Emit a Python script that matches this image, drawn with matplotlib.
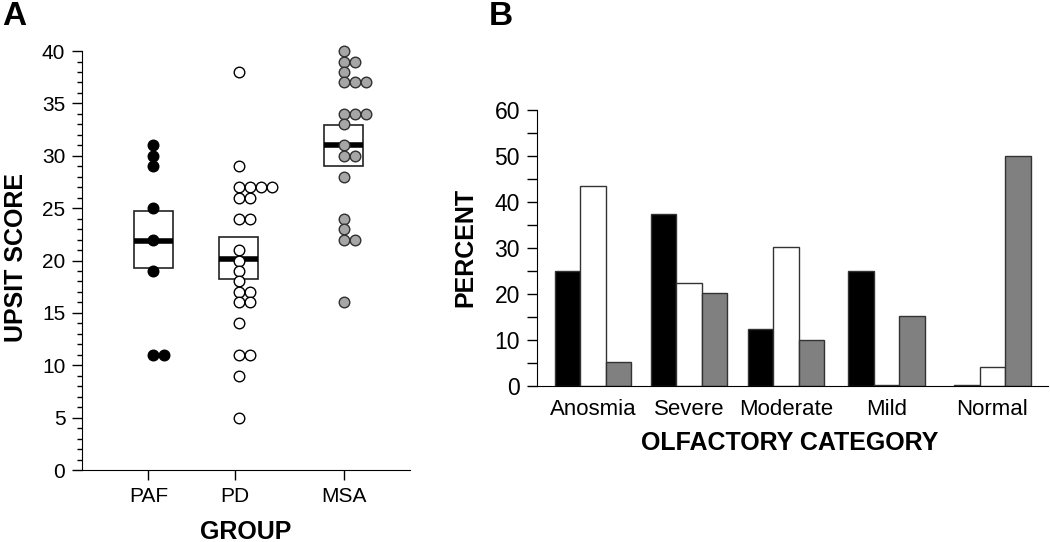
import numpy as np
import matplotlib.pyplot as plt
from matplotlib.patches import Rectangle
from matplotlib.ticker import MultipleLocator

plt.rcParams['font.family'] = ['Liberation Sans', 'DejaVu Sans']

# Panel A: UPSIT scores per group
groups = ['PAF', 'PD', 'MSA']
paf = [31, 30, 29, 25, 22, 19, 11, 11]
pd_ = [38, 29, 27, 27, 27, 27, 26, 26, 24, 24, 21, 20, 19, 18, 17, 17, 16, 16, 14, 11, 11, 9, 5]
msa = [40, 39, 39, 38, 37, 37, 37, 34, 34, 34, 33, 31, 30, 30, 28, 24, 23, 22, 22, 16]
box_low = [19.3, 18.2, 29.0]
box_high = [24.7, 22.2, 32.9]
box_median = [21.9, 20.1, 31.0]

# Panel B: percent per olfactory category
categories = ['Anosmia', 'Severe', 'Moderate', 'Mild', 'Normal']
pct_paf = [25, 37.5, 12.5, 25, 0.3]
pct_pd = [43.5, 22.5, 30.2, 0.3, 4.1]
pct_msa = [5.3, 20.3, 10.1, 15.2, 50.1]

fig = plt.figure(figsize=(10.5, 5.42), dpi=100)

# ---- panel A
axA = fig.add_axes([0.0781, 0.1328, 0.3124, 0.773])
centers = [0.87, 1.91, 3.19]
tick_pos = [0.81, 1.86, 3.19]
step = 0.134
styles = [dict(fc='black', ec='black'),
          dict(fc='white', ec='black'),
          dict(fc='#a6a6a6', ec='#303030')]
for i, vals in enumerate([paf, pd_, msa]):
    c = centers[i]
    axA.add_patch(Rectangle((c - 0.24, box_low[i]), 0.48, box_high[i] - box_low[i],
                            fc='white', ec='#222222', lw=1.2, zorder=2))
    axA.plot([c - 0.24, c + 0.24], [box_median[i]] * 2, color='black', lw=4,
             solid_capstyle='butt', zorder=3)
    # same values sit side by side
    seen = {}
    xs = []
    for v in vals:
        k = seen.get(v, 0)
        seen[v] = k + 1
        xs.append(c + k * step)
    axA.scatter(xs, vals, s=58, lw=1.0, zorder=4, clip_on=False,
                facecolor=styles[i]['fc'], edgecolor=styles[i]['ec'])

axA.set_xlim(0, 4)
axA.set_ylim(0, 40)
axA.spines['top'].set_visible(False)
axA.spines['right'].set_visible(False)
axA.yaxis.set_major_locator(MultipleLocator(5))
axA.yaxis.set_minor_locator(MultipleLocator(1))
axA.set_xticks(tick_pos)
axA.set_xticklabels(groups)
axA.tick_params(axis='y', which='major', length=7, width=1, labelsize=15, pad=5)
axA.tick_params(axis='y', which='minor', length=3.5, width=1)
axA.tick_params(axis='x', length=7, width=1, labelsize=15, pad=5)
axA.set_ylabel('UPSIT SCORE', fontsize=18, fontweight='bold', va='center')
axA.yaxis.set_label_coords(-0.201, 0.508)
axA.set_xlabel('GROUP', fontsize=18, fontweight='bold', va='center')
axA.xaxis.set_label_coords(0.499, -0.147)

# ---- panel B
axB = fig.add_axes([0.5111, 0.2878, 0.4867, 0.5092])
gpos = np.array([1.10, 2.98, 4.88, 6.85, 8.92])
w = 0.5
bar_kw = dict(width=w, edgecolor='#333333', linewidth=1.0, zorder=2)
axB.bar(gpos - w, pct_paf, color='black', **bar_kw)
axB.bar(gpos, pct_pd, color='white', **bar_kw)
axB.bar(gpos + w, pct_msa, color='#808080', **bar_kw)
axB.set_xlim(0, 10)
axB.set_ylim(0, 60)
axB.spines['top'].set_visible(False)
axB.spines['right'].set_visible(False)
axB.yaxis.set_major_locator(MultipleLocator(10))
axB.yaxis.set_minor_locator(MultipleLocator(5))
axB.set_xticks(gpos)
axB.set_xticklabels(categories)
axB.tick_params(axis='x', length=0, labelsize=16, pad=9)
axB.tick_params(axis='y', which='major', length=7, width=1, labelsize=16.5, pad=5)
axB.tick_params(axis='y', which='minor', length=7, width=1)
axB.set_ylabel('PERCENT', fontsize=18, fontweight='bold', va='center')
axB.yaxis.set_label_coords(-0.139, 0.502)
axB.set_xlabel('OLFACTORY CATEGORY', fontsize=18, fontweight='bold', va='center')
axB.xaxis.set_label_coords(0.496, -0.207)

fig.text(0.0135, 0.97, 'A', fontsize=24, fontweight='bold', ha='center', va='center')
fig.text(0.477, 0.97, 'B', fontsize=24, fontweight='bold', ha='center', va='center')

fig.savefig('out.png', dpi=100)
